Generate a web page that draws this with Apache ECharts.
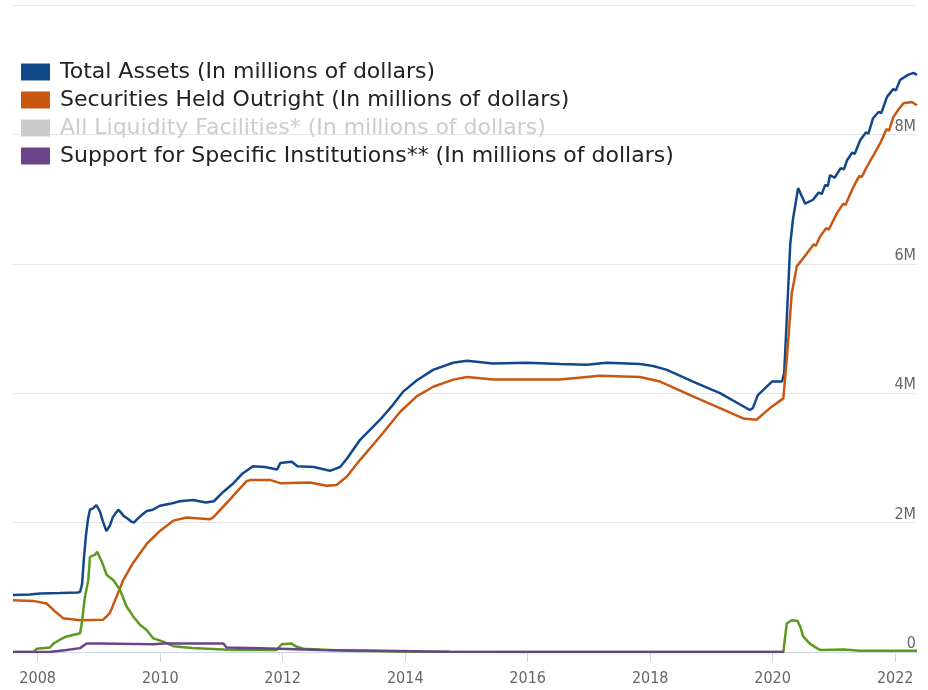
<!DOCTYPE html>
<html>
<head>
<meta charset="utf-8">
<title>Federal Reserve balance sheet</title>
<script src="https://cdn.jsdelivr.net/npm/echarts@6/dist/echarts.min.js"></script>
<style>
  html, body { margin: 0; padding: 0; background: #ffffff; }
  #chart { width: 928px; height: 690px; }
</style>
</head>
<body>
<div id="chart"></div>
<script>
// Series names as shown in the legend
const seriesNames = [
  'Total Assets (In millions of dollars)',
  'Securities Held Outright (In millions of dollars)',
  'All Liquidity Facilities* (In millions of dollars)',
  'Support for Specific Institutions** (In millions of dollars)'
];

// Weekly balance-sheet readings, millions of dollars
const totalAssets = [
  ['2007-08-07', 880000], ['2007-11-15', 890000], ['2008-01-14', 905000], ['2008-05-13', 910000],
  ['2008-08-28', 920000], ['2008-09-10', 930000], ['2008-09-22', 1050000], ['2008-10-03', 1450000],
  ['2008-10-15', 1800000], ['2008-10-27', 2050000], ['2008-11-08', 2200000], ['2008-11-26', 2220000],
  ['2008-12-16', 2270000], ['2009-01-07', 2170000], ['2009-01-24', 2020000], ['2009-02-14', 1870000],
  ['2009-03-06', 1950000], ['2009-03-24', 2080000], ['2009-04-11', 2150000], ['2009-04-26', 2200000],
  ['2009-05-14', 2150000], ['2009-05-29', 2100000], ['2009-06-16', 2070000], ['2009-07-10', 2020000],
  ['2009-07-28', 2000000], ['2009-08-15', 2050000], ['2009-09-14', 2120000], ['2009-10-13', 2180000],
  ['2009-11-18', 2200000], ['2009-12-30', 2260000], ['2010-02-28', 2290000], ['2010-04-29', 2330000],
  ['2010-07-15', 2350000], ['2010-09-30', 2310000], ['2010-11-17', 2330000], ['2011-01-10', 2470000],
  ['2011-03-10', 2600000], ['2011-05-03', 2750000], ['2011-07-08', 2870000], ['2011-09-17', 2860000],
  ['2011-11-29', 2820000], ['2011-12-18', 2920000], ['2012-02-25', 2940000], ['2012-03-29', 2870000],
  ['2012-07-05', 2860000], ['2012-10-09', 2800000], ['2012-12-09', 2860000], ['2013-01-19', 2990000],
  ['2013-04-07', 3280000], ['2013-08-04', 3590000], ['2013-10-20', 3820000], ['2013-12-18', 4020000],
  ['2014-03-12', 4200000], ['2014-06-16', 4360000], ['2014-10-13', 4470000], ['2015-01-04', 4500000],
  ['2015-06-08', 4460000], ['2015-12-27', 4470000], ['2016-07-12', 4450000], ['2016-12-19', 4440000],
  ['2017-04-17', 4470000], ['2017-11-01', 4450000], ['2018-01-18', 4420000], ['2018-04-11', 4360000],
  ['2018-09-13', 4180000], ['2019-02-21', 4000000], ['2019-08-18', 3740000], ['2019-09-05', 3770000],
  ['2019-10-05', 3970000], ['2019-12-28', 4180000], ['2020-02-26', 4180000], ['2020-03-10', 4310000],
  ['2020-03-28', 5290000], ['2020-04-15', 6300000], ['2020-05-02', 6700000], ['2020-06-01', 7170000],
  ['2020-07-13', 6930000], ['2020-08-29', 6990000], ['2020-10-01', 7100000], ['2020-10-20', 7080000],
  ['2020-11-10', 7220000], ['2020-11-25', 7200000], ['2020-12-08', 7370000], ['2021-01-05', 7330000],
  ['2021-02-10', 7480000], ['2021-03-01', 7460000], ['2021-03-20', 7600000], ['2021-04-20', 7720000],
  ['2021-05-05', 7700000], ['2021-06-06', 7910000], ['2021-07-10', 8030000], ['2021-07-25', 8010000],
  ['2021-08-22', 8250000], ['2021-09-25', 8350000], ['2021-10-10', 8330000], ['2021-11-13', 8580000],
  ['2021-12-20', 8700000], ['2022-01-05', 8680000], ['2022-01-30', 8840000], ['2022-03-18', 8920000],
  ['2022-04-20', 8950000], ['2022-05-11', 8920000]
];

const securitiesHeld = [
  ['2007-08-07', 800000], ['2007-12-05', 790000], ['2008-02-23', 750000], ['2008-04-04', 650000],
  ['2008-06-02', 520000], ['2008-09-10', 490000], ['2009-01-26', 500000], ['2009-03-06', 600000],
  ['2009-04-15', 850000], ['2009-05-25', 1110000], ['2009-07-24', 1380000], ['2009-10-12', 1670000],
  ['2009-12-30', 1870000], ['2010-03-20', 2030000], ['2010-06-08', 2080000], ['2010-10-24', 2050000],
  ['2010-11-13', 2080000], ['2011-02-21', 2360000], ['2011-05-31', 2640000], ['2011-06-26', 2660000],
  ['2011-10-17', 2660000], ['2011-12-18', 2610000], ['2012-06-12', 2620000], ['2012-09-19', 2570000],
  ['2012-11-18', 2580000], ['2013-01-17', 2710000], ['2013-04-07', 2970000], ['2013-08-04', 3330000],
  ['2013-12-01', 3710000], ['2014-03-10', 3950000], ['2014-06-17', 4100000], ['2014-10-15', 4210000],
  ['2015-01-04', 4250000], ['2015-06-08', 4210000], ['2016-07-12', 4210000], ['2017-03-07', 4270000],
  ['2017-11-01', 4250000], ['2018-03-01', 4180000], ['2018-09-13', 3950000], ['2019-02-21', 3770000],
  ['2019-07-09', 3610000], ['2019-09-27', 3590000], ['2019-12-16', 3770000], ['2020-03-05', 3920000],
  ['2020-03-25', 4510000], ['2020-04-24', 5540000], ['2020-05-24', 5960000], ['2020-07-23', 6160000],
  ['2020-09-01', 6300000], ['2020-09-15', 6280000], ['2020-10-10', 6420000], ['2020-11-15', 6550000],
  ['2020-12-01', 6530000], ['2021-01-18', 6780000], ['2021-02-25', 6930000], ['2021-03-10', 6910000],
  ['2021-04-27', 7190000], ['2021-06-01', 7360000], ['2021-06-15', 7340000], ['2021-07-16', 7500000],
  ['2021-08-25', 7680000], ['2021-09-05', 7660000], ['2021-10-03', 7860000], ['2021-11-10', 8080000],
  ['2021-11-25', 8060000], ['2021-12-21', 8270000], ['2022-01-25', 8400000], ['2022-02-19', 8480000],
  ['2022-04-10', 8500000], ['2022-05-11', 8450000]
];

const liquidityFacilities = [
  ['2007-08-07', 0], ['2007-12-10', 0], ['2007-12-25', 50000], ['2008-03-14', 70000],
  ['2008-04-04', 130000], ['2008-05-13', 190000], ['2008-06-22', 240000], ['2008-09-10', 290000],
  ['2008-09-20', 440000], ['2008-10-09', 850000], ['2008-10-29', 1110000], ['2008-11-08', 1470000],
  ['2008-12-07', 1500000], ['2008-12-21', 1550000], ['2009-01-17', 1400000], ['2009-02-16', 1190000],
  ['2009-03-28', 1110000], ['2009-05-06', 960000], ['2009-06-15', 700000], ['2009-07-24', 550000],
  ['2009-09-02', 420000], ['2009-10-12', 340000], ['2009-11-21', 210000], ['2010-01-19', 160000],
  ['2010-03-20', 90000], ['2010-07-09', 60000], ['2011-03-12', 30000], ['2011-11-26', 30000],
  ['2011-12-26', 120000], ['2012-02-23', 130000], ['2012-03-25', 80000], ['2012-05-04', 50000],
  ['2013-01-13', 20000], ['2014-03-27', 5000], ['2015-01-01', 0], ['2020-03-05', 0],
  ['2020-03-25', 440000], ['2020-04-24', 490000], ['2020-05-29', 480000], ['2020-06-14', 390000],
  ['2020-07-01', 240000], ['2020-08-10', 130000], ['2020-09-09', 80000], ['2020-10-10', 30000],
  ['2021-02-26', 40000], ['2021-06-06', 20000], ['2022-05-11', 20000]
];

const specificInstitutions = [
  ['2007-08-07', 0], ['2008-03-10', 0], ['2008-06-22', 30000], ['2008-09-10', 60000],
  ['2008-10-19', 130000], ['2009-01-07', 130000], ['2009-11-21', 120000], ['2010-01-19', 130000],
  ['2011-01-12', 130000], ['2011-02-01', 70000], ['2011-12-18', 50000], ['2012-08-10', 30000],
  ['2013-08-04', 20000], ['2014-09-25', 5000], ['2015-06-01', 0], ['2020-03-10', 0]
];

// Labelled years on the date axis
const tickYears = [2008, 2010, 2012, 2014, 2016, 2018, 2020, 2022];
const dateRange = ['2007-08-07', '2022-05-11'];

const colors = ['#11488a', '#c9570f', '#5c9a1f', '#6b4487'];
const axisFont = "'DejaVu Sans Condensed', Roboto, sans-serif";

// Dates are placed on a millisecond value axis
const toTime = d => Date.parse(d + 'T00:00:00Z');
const toPoints = rows => rows.map(([d, v]) => [toTime(d), v]);
const tickStamps = tickYears.map(y => Date.UTC(y, 0, 1));

const chart = echarts.init(document.getElementById('chart'), null, { renderer: 'canvas' });

function lineSeries(name, rows, color) {
  return {
    name: name,
    type: 'line',
    data: toPoints(rows),
    showSymbol: false,
    symbol: 'none',
    smooth: false,
    lineStyle: { width: 2.5, color: color },
    itemStyle: { color: color },
    emphasis: { disabled: true }
  };
}

chart.setOption({
  animation: false,
  backgroundColor: '#ffffff',
  grid: { left: 13, right: 11, top: 5, bottom: 38, containLabel: false },
  legend: {
    orient: 'vertical',
    left: 16,
    top: 56,
    icon: 'rect',
    itemWidth: 29,
    itemHeight: 17,
    itemGap: 6,
    selectedMode: false,
    textStyle: { fontFamily: 'DejaVu Sans', fontSize: 22, color: '#222222', padding: [0, 0, 0, 5] },
    data: [
      { name: seriesNames[0] },
      { name: seriesNames[1] },
      { name: seriesNames[2], itemStyle: { color: '#cccccc' }, textStyle: { color: '#cccccc' } },
      { name: seriesNames[3] }
    ]
  },
  xAxis: {
    type: 'value',
    min: toTime(dateRange[0]),
    max: toTime(dateRange[1]),
    axisLine: { show: true, lineStyle: { color: '#ccd6eb', width: 1 } },
    axisTick: { show: true, length: 10, lineStyle: { color: '#ccd6eb' }, customValues: tickStamps },
    axisLabel: {
      customValues: tickStamps,
      formatter: v => String(new Date(v).getUTCFullYear()),
      color: '#666666',
      fontFamily: axisFont,
      fontSize: 16,
      margin: 19
    },
    splitLine: { show: false }
  },
  yAxis: {
    type: 'value',
    position: 'right',
    min: 0,
    max: 10000000,
    interval: 2000000,
    axisLine: { show: false },
    axisTick: { show: false },
    splitLine: { show: true, lineStyle: { color: '#e6e6e6', width: 1 } },
    axisLabel: {
      inside: true,
      margin: 1,
      verticalAlign: 'bottom',
      showMaxLabel: false,
      color: '#666666',
      fontFamily: axisFont,
      fontSize: 16,
      formatter: v => (v === 0 ? '0' : (v / 1000000) + 'M')
    }
  },
  series: [
    lineSeries(seriesNames[0], totalAssets, colors[0]),
    lineSeries(seriesNames[1], securitiesHeld, colors[1]),
    lineSeries(seriesNames[2], liquidityFacilities, colors[2]),
    lineSeries(seriesNames[3], specificInstitutions, colors[3])
  ]
});
</script>
</body>
</html>
